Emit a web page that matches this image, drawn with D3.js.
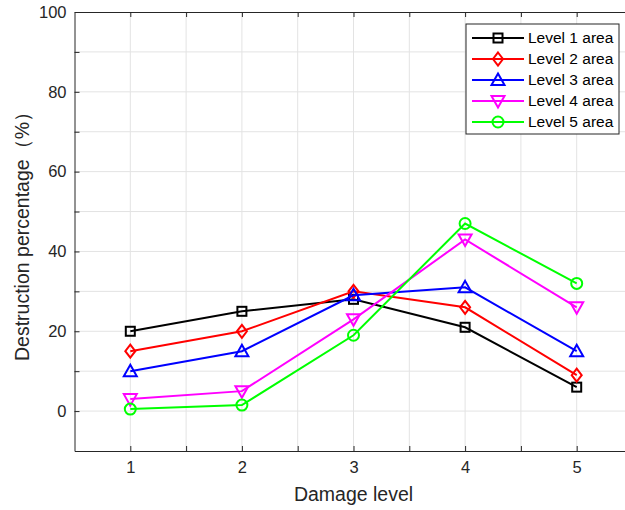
<!DOCTYPE html>
<html>
<head>
<meta charset="utf-8">
<script src="https://cdn.jsdelivr.net/npm/d3@7"></script>
<style>
    body { margin: 0; background: #fff; }
    svg { display: block; font-family: "Liberation Sans", Arial, sans-serif; }
</style>
</head>
<body>
<svg id="chart" width="625" height="510"></svg>
<script>
// data
const levels= [1, 2, 3, 4, 5]
const series_names= ["Level 1 area", "Level 2 area", "Level 3 area", "Level 4 area", "Level 5 area"]
const level1= [20, 25, 28, 21, 6]
const level2= [15, 20, 30, 26, 9]
const level3= [10, 15, 29, 31, 15]
const level4= [3, 5, 23, 43, 26]
const level5= [0.5, 1.5, 19, 47, 32]
const y_ticks= [0, 20, 40, 60, 80, 100]

const colors= ["#000000", "#ff0000", "#0000ff", "#ff00ff", "#00ff00"]
const markers= ["square", "diamond", "up", "down", "circle"]
const all_values= [level1, level2, level3, level4, level5]

const svg= d3.select("#chart")
const plot_left= 74.5, plot_top= 12, plot_bottom= 451, plot_right= 632.5

const x= d3.scaleLinear().domain([0.5, 5.5]).range([plot_left, plot_right])
const y= d3.scaleLinear().domain([-10, 100]).range([plot_bottom, plot_top])

// grid
const grid= svg.append("g").attr("stroke", "#e3e3e3").attr("stroke-width", 1)
d3.range(1, 5.5, 0.5).forEach(v => {
    grid.append("line").attr("x1", x(v)).attr("x2", x(v)).attr("y1", plot_top).attr("y2", plot_bottom)
})
d3.range(0, 100, 10).forEach(v => {
    grid.append("line").attr("x1", plot_left).attr("x2", plot_right).attr("y1", y(v)).attr("y2", y(v))
})

// axes (MATLAB box style)
const axis_color= "#262626"
const xb= svg.append("g").attr("transform", `translate(0,${plot_bottom})`)
    .call(d3.axisBottom(x).tickValues(d3.range(1, 5.5, 0.5)).tickSizeInner(-5).tickSizeOuter(0)
        .tickFormat(d => Number.isInteger(d) ? d : ""))
const xt= svg.append("g").attr("transform", `translate(0,${plot_top})`)
    .call(d3.axisTop(x).tickValues(d3.range(1, 5.5, 0.5)).tickSizeInner(-5).tickSizeOuter(0).tickFormat(""))
const yl= svg.append("g").attr("transform", `translate(${plot_left},0)`)
    .call(d3.axisLeft(y).tickValues(d3.range(0, 110, 10)).tickSizeInner(-5).tickSizeOuter(0)
        .tickFormat(d => y_ticks.includes(d) ? d : ""))

for(const g of [xb, xt, yl]){
    g.select(".domain").attr("stroke", axis_color).attr("stroke-width", 1)
    g.selectAll(".tick line").attr("stroke", axis_color)
    g.selectAll(".tick text").attr("fill", axis_color).attr("font-size", 16.5)
}
xb.selectAll(".tick text").attr("y", 10)
yl.selectAll(".tick text").attr("x", -8)

// axis titles
svg.append("text").attr("x", x(3)).attr("y", 501).attr("text-anchor", "middle")
    .attr("fill", axis_color).attr("font-size", 19.5).text("Damage level")
svg.append("text").attr("transform", `translate(29,${y(45)}) rotate(-90)`).attr("text-anchor", "middle")
    .attr("fill", axis_color).attr("font-size", 19.5).text("Destruction percentage（%）")

// markers
function draw_marker(g, kind, cx, cy, color){
    let m
    if(kind === "square"){
        m= g.append("rect").attr("x", cx-4.5).attr("y", cy-4.5).attr("width", 9).attr("height", 9)
    } else if(kind === "diamond"){
        m= g.append("path").attr("d", `M${cx},${cy-6.5}L${cx+5},${cy}L${cx},${cy+6.5}L${cx-5},${cy}Z`)
    } else if(kind === "up"){
        m= g.append("path").attr("d", `M${cx},${cy-6.5}L${cx+6.5},${cy+5}L${cx-6.5},${cy+5}Z`)
    } else if(kind === "down"){
        m= g.append("path").attr("d", `M${cx},${cy+6.5}L${cx+6.5},${cy-5}L${cx-6.5},${cy-5}Z`)
    } else {
        m= g.append("circle").attr("cx", cx).attr("cy", cy).attr("r", 5.5)
    }
    m.attr("fill", "none").attr("stroke", color).attr("stroke-width", 2)
}

const line= d3.line().x(d => x(d[0])).y(d => y(d[1]))
all_values.forEach((vals, i) => {
    const g= svg.append("g")
    const pts= levels.map((l, j) => [l, vals[j]])
    g.append("path").attr("d", line(pts)).attr("fill", "none")
        .attr("stroke", colors[i]).attr("stroke-width", 2)
    pts.forEach(p => draw_marker(g, markers[i], x(p[0]), y(p[1]), colors[i]))
})

// legend
const lg= svg.append("g")
lg.append("rect").attr("x", 466).attr("y", 24).attr("width", 153).attr("height", 110)
    .attr("fill", "#fff").attr("stroke", axis_color).attr("stroke-width", 1)
series_names.forEach((name, i) => {
    const ly= 38 + i*21
    lg.append("line").attr("x1", 472).attr("x2", 524).attr("y1", ly).attr("y2", ly)
        .attr("stroke", colors[i]).attr("stroke-width", 2)
    draw_marker(lg, markers[i], 498, ly, colors[i])
    lg.append("text").attr("x", 528).attr("y", ly).attr("dy", "0.35em")
        .attr("font-size", 15.5).attr("fill", "#000").text(name)
})
</script>
</body>
</html>
